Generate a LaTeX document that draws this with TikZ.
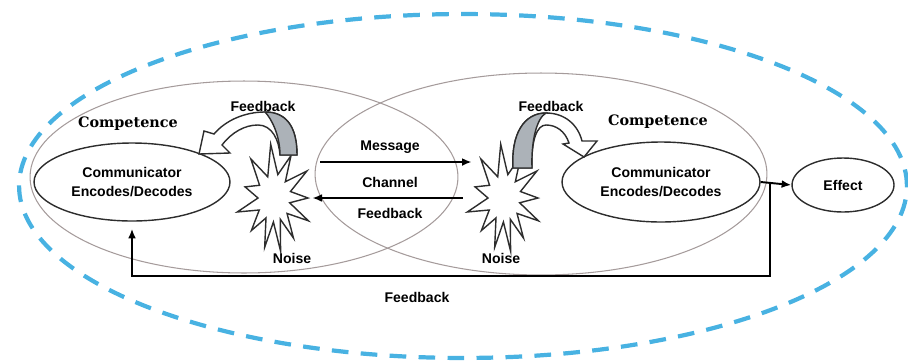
\documentclass[tikz,border=0pt]{standalone}
\usepackage{fontspec}
\usetikzlibrary{shapes.geometric,arrows.meta,calc}

\newfontfamily\labelfont{Liberation Sans}
\newfontfamily\compfont{DejaVu Serif}

\definecolor{envblue}{RGB}{72,178,226}
\definecolor{ringgray}{RGB}{165,155,155}
\definecolor{shadegray}{RGB}{172,178,184}
\definecolor{inkgray}{RGB}{45,45,45}

% spiky noise outline round a named node
\newcommand{\noisestar}[1]{%
  \draw[starline] (#1) +(-3.3,-53.8)
    \foreach \a/\rx/\ry in {-77/17/24,-60/34/49,-45/16/23,-30/38/54,-15/17/25,
      0/34/49,12/16/23,25/38/54,40/17/24,55/34/49,67/16/23,80/38/54,92/17/24,
      105/36/51,120/16/23,135/32/46,150/17/24,165/38/54,180/16/23,195/30/43,
      212/17/24,230/36/51,247/16/23}
    { -- +({\rx*cos(\a)},{\ry*sin(\a)}) } -- cycle;}

\begin{document}
\begin{tikzpicture}[x=0.02cm,y=-0.02cm,
    ring/.style={ellipse,draw=ringgray,line width=0.6pt,inner sep=0pt},
    encoder/.style={ellipse,draw=inkgray,line width=0.8pt,inner sep=0pt,
      align=center,font=\labelfont\bfseries\fontsize{8}{11.3}\selectfont},
    lbl/.style={font=\labelfont\bfseries\fontsize{8}{9.5}\selectfont,inner sep=1pt},
    comp/.style={font=\compfont\bfseries\fontsize{8.2}{9.5}\selectfont,inner sep=1pt},
    flow/.style={-{Latex[length=5.5pt,width=4.5pt]},line width=1.1pt},
    noisearea/.style={rectangle,minimum width=1.52cm,minimum height=2.16cm,inner sep=0pt},
    starline/.style={draw=inkgray,fill=white,line width=0.8pt,line join=miter},
    fbarrow/.style={draw=inkgray,fill=white,line width=0.8pt},
    fbshade/.style={draw=inkgray,fill=shadegray,line width=0.8pt}]
  \useasboundingbox (0,0) rectangle (908,362);

  % outer context
  \node[ellipse,draw=envblue,line width=2.4pt,dash pattern=on 9.5pt off 7pt,
    minimum width=17.76cm,minimum height=6.88cm,inner sep=0pt] (env) at (463,186) {};

  % the two competence areas
  \node[ring,minimum width=8.56cm,minimum height=3.84cm] (ringL) at (244,177) {};
  \node[ring,minimum width=9.04cm,minimum height=4.04cm] (ringR) at (541,174) {};

  \node[comp] (compL) at (128,124) {Competence};
  \node[comp] (compR) at (658,122) {Competence};

  \node[encoder,minimum width=3.92cm,minimum height=1.56cm] (encL) at (132,182)
    {Communicator\\Encodes/Decodes};
  \node[encoder,minimum width=3.96cm,minimum height=1.6cm] (encR) at (661,182)
    {Communicator\\Encodes/Decodes};
  \node[encoder,minimum width=2.04cm,minimum height=1.08cm] (effect) at (843,185) {Effect};

  % noise
  \node[noisearea] (noiseL) at (274,198) {};
  \node[noisearea] (noiseR) at (504,198) {};

  % channel
  \draw[flow] ([xshift=0.16cm,yshift=0.72cm]noiseL.east) -- ([xshift=0.12cm,yshift=0.72cm]noiseR.west);
  \draw[flow] ([xshift=-0.06cm]noiseR.west) -- (noiseL.east);
  \node[lbl] (msg) at (390,147) {Message};
  \node[lbl] (chan) at (390,182) {Channel};
  \node[lbl] (fbM) at (390,213) {Feedback};

  \noisestar{noiseL.center}
  \noisestar{noiseR.center}
  \node[lbl] (noiseLbl) at (292,258) {Noise};
  \node[lbl] (noiseRbl) at (501,258) {Noise};

  % self feedback, left
  \filldraw[fbarrow] (297,155) .. controls (297,125) and (285,112) .. (265,112)
    .. controls (245,112) and (226,120) .. (214,134) -- (204,131) -- (199,154)
    -- (230,153) -- (222,145) .. controls (232,132) and (245,125) .. (258,125)
    .. controls (272,125) and (279,140) .. (280,155) -- cycle;
  \filldraw[fbshade] (297,155) .. controls (297,125) and (285,112) .. (265,112)
    .. controls (271,118) and (280,135) .. (280,155) -- cycle;
  \node[lbl] (fbL) at (263,106) {Feedback};

  % self feedback, right
  \filldraw[fbarrow] (513,168) .. controls (511,134) and (524,113) .. (546,113)
    .. controls (565,113) and (578,125) .. (582,141) -- (597,141) -- (584,157)
    -- (563,144) -- (569,143) .. controls (565,131) and (556,125) .. (546,125)
    .. controls (537,125) and (531,140) .. (532,168) -- cycle;
  \filldraw[fbshade] (513,168) .. controls (511,134) and (524,113) .. (546,113)
    .. controls (537,118) and (531,140) .. (532,168) -- cycle;
  \node[lbl] (fbR) at (551,106) {Feedback};

  % effect and overall feedback
  \draw[flow] (encR.east) -- (effect.west);
  \draw[flow,shorten >=4pt] ($(encR.east)!0.3!(effect.west)$) -- ++(0,93) -| (encL.south);
  \node[lbl] (fbBottom) at (417,297) {Feedback};
\end{tikzpicture}
\end{document}
